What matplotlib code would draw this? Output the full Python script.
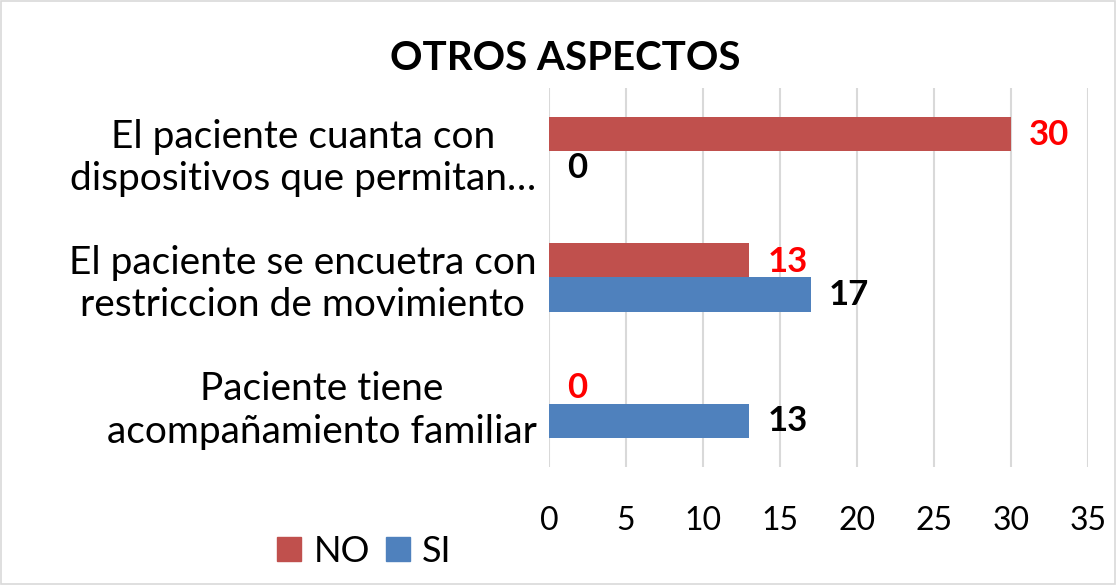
import matplotlib
matplotlib.use("Agg")
import matplotlib.pyplot as plt
from matplotlib.patches import Rectangle, Patch
import numpy as np

plt.rcParams['font.family'] = ['Lato', 'DejaVu Sans']

categories = ["El paciente cuanta con\ndispositivos que permitan…",
              "El paciente se encuetra con\nrestriccion de movimiento",
              "Paciente tiene\nacompañamiento familiar"]
no_values = [30, 13, 0]
si_values = [0, 17, 13]
xticks = [0, 5, 10, 15, 20, 25, 30, 35]
title = "OTROS ASPECTOS"

c_no = "#C0504D"
c_si = "#4F81BD"

fig = plt.figure(figsize=(11.17, 5.85), dpi=100)
ax = fig.add_axes([0.4915, 0.2017, 0.974 - 0.4915, 0.8496 - 0.2017])

y = np.arange(len(categories))
h = 0.27
b_no = ax.barh(y - h / 2, no_values, height=h, color=c_no, label="NO", zorder=3)
b_si = ax.barh(y + h / 2, si_values, height=h, color=c_si, label="SI", zorder=3)

ax.set_ylim(len(categories) - 0.5, -0.5)
ax.set_xlim(0, 35)
ax.set_xticks(xticks)
ax.set_xticklabels([str(t) for t in xticks], fontsize=23)
ax.set_yticks(y)
ax.set_yticklabels(categories, fontsize=28, multialignment='center', linespacing=1.22)
ax.tick_params(axis='both', length=0)
ax.tick_params(axis='x', pad=28)
ax.tick_params(axis='y', pad=9)
for s in ax.spines.values():
    s.set_visible(False)
ax.grid(axis='x', color='#D9D9D9', linewidth=1.5, zorder=0)
ax.set_axisbelow(True)

for rect, v in zip(b_no, no_values):
    ax.annotate(str(v), (v, rect.get_y() + rect.get_height() / 2), xytext=(13, -1),
                textcoords='offset points', ha='left', va='center',
                fontsize=25, fontweight='bold', color='#FF0000')
for rect, v in zip(b_si, si_values):
    ax.annotate(str(v), (v, rect.get_y() + rect.get_height() / 2), xytext=(13, 0),
                textcoords='offset points', ha='left', va='center',
                fontsize=25, fontweight='bold', color='black')

fig.text(0.506, 0.9, title, ha='center', va='center', fontsize=29, fontweight='bold')

handles = [Patch(color=c_no, label="NO"), Patch(color=c_si, label="SI")]
fig.legend(handles=handles, loc='center left', bbox_to_anchor=(0.232, 0.058), ncol=2,
           frameon=False, fontsize=26, handlelength=0.65, handleheight=0.65,
           handletextpad=0.35, columnspacing=0.45, borderpad=0)

fig.patches.append(Rectangle((0.001, 0.002), 0.997, 0.996, transform=fig.transFigure,
                             fill=False, edgecolor='#D9D9D9', linewidth=1.2))

fig.savefig("out.png", dpi=100)
